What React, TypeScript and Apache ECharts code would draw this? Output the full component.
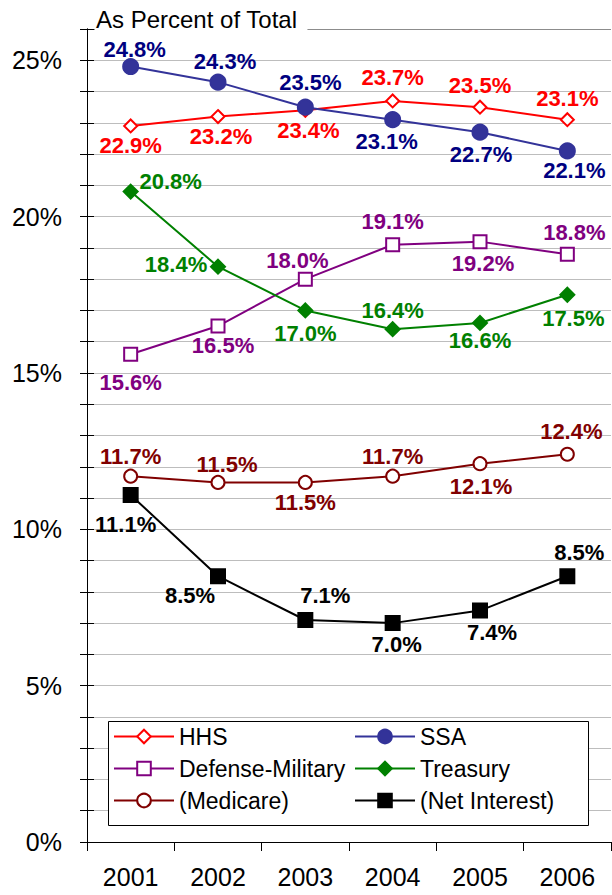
import React, { useEffect, useRef } from "react";
import * as echarts from "echarts";

const years = ["2001", "2002", "2003", "2004", "2005", "2006"];

const hhs = [22.9, 23.2, 23.4, 23.7, 23.5, 23.1];
const ssa = [24.8, 24.3, 23.5, 23.1, 22.7, 22.1];
const defense = [15.6, 16.5, 18.0, 19.1, 19.2, 18.8];
const treasury = [20.8, 18.4, 17.0, 16.4, 16.6, 17.5];
const medicare = [11.7, 11.5, 11.5, 11.7, 12.1, 12.4];
const netInterest = [11.1, 8.5, 7.1, 7.0, 7.4, 8.5];

// label placement (pixel offsets from each point)
const hhsOff = [[0, 20], [3, 20], [3, 20], [0, -23], [0, -22], [0, -21]];
const ssaOff = [[4, -17], [7, -21], [5, -25], [-6, 22], [1, 22], [7, 20]];
const defOff = [[0, 28], [5, 19], [-8, -19], [0, -23], [3, 22], [7, -22]];
const treOff = [[40, -10], [-42, -2], [0, 23], [0, -19], [0, 18], [6, 24]];
const medOff = [[0, -20], [9, -18], [0, 20], [0, -20], [1, 23], [4, -23]];
const netOff = [[-5, 30], [-28, 19], [20, -24], [4, 21], [12, 22], [12, -24]];

const FONT = "'Liberation Sans', Arial, sans-serif";

function mkSeries(
  name: string,
  values: number[],
  offs: number[][],
  lineColor: string,
  labelColor: string,
  symbol: string,
  symbolSize: number
) {
  return {
    name,
    type: "line",
    data: values.map((v, i) => ({
      value: v,
      label: { offset: offs[i] },
    })),
    symbol,
    symbolSize,
    showAllSymbol: true,
    lineStyle: { color: lineColor, width: 2 },
    itemStyle: { color: lineColor, borderColor: lineColor, borderWidth: 2 },
    label: {
      show: true,
      position: "inside",
      formatter: (p: any) => p.value.toFixed(1) + "%",
      color: labelColor,
      fontFamily: FONT,
      fontWeight: "bold",
      fontSize: 22,
    },
    emphasis: { disabled: true },
  };
}

export default function App() {
  const ref = useRef<HTMLDivElement>(null);
  useEffect(() => {
    if (!ref.current) return;
    const chart = echarts.init(ref.current, null, { renderer: "svg" });
    const gridColors = Array.from({ length: 27 }, (_, i) => (i === 26 ? "#8c8c8c" : "#bdbdbd"));
    const legendText = { fontFamily: FONT, fontSize: 23, color: "#000" };
    chart.setOption({
      animation: false,
      backgroundColor: "#fff",
      grid: { left: 87, top: 29, width: 524, height: 813 },
      xAxis: {
        type: "category",
        data: years,
        boundaryGap: true,
        axisLine: { lineStyle: { color: "#000", width: 1 } },
        axisTick: { show: true, length: 9, interval: 0, lineStyle: { color: "#000" } },
        axisLabel: { margin: 22, fontFamily: FONT, fontSize: 25, color: "#000", interval: 0 },
        splitLine: { show: false },
      },
      yAxis: [
        {
          type: "value",
          min: 0,
          max: 26,
          interval: 1,
          axisLine: { show: true, lineStyle: { color: "#000", width: 1 } },
          axisTick: { show: true, length: 7, lineStyle: { color: "#000" } },
          axisLabel: {
            margin: 25,
            fontFamily: FONT,
            fontSize: 25,
            color: "#000",
            formatter: (v: number) => (v % 5 === 0 ? v + "%" : ""),
          },
          splitLine: { show: true, lineStyle: { color: gridColors, width: 1 } },
        },
        {
          type: "value",
          min: 0,
          max: 26,
          interval: 1,
          position: "left",
          axisLine: { show: true, lineStyle: { color: "#000", width: 1 } },
          axisTick: { show: true, inside: true, length: 7, lineStyle: { color: "#000" } },
          axisLabel: { show: false },
          splitLine: { show: false },
        },
      ],
      legend: [
        {
          orient: "vertical",
          left: 108,
          top: 720,
          itemWidth: 60,
          itemHeight: 17,
          itemGap: 9,
          textStyle: legendText,
          data: ["HHS", "Defense-Military", "(Medicare)"],
          selectedMode: false,
        },
        {
          orient: "vertical",
          left: 349,
          top: 720,
          itemWidth: 60,
          itemHeight: 17,
          itemGap: 9,
          textStyle: legendText,
          data: ["SSA", "Treasury", "(Net Interest)"],
          selectedMode: false,
        },
      ],
      graphic: [
        {
          type: "rect",
          z: 3,
          shape: { x: 108.5, y: 721.5, width: 480, height: 104 },
          style: { fill: "#fff", stroke: "#000", lineWidth: 1 },
        },
        {
          type: "text",
          z: 5,
          x: 95,
          y: 19,
          style: {
            text: "As Percent of Total",
            fontFamily: FONT,
            fontSize: 24,
            fill: "#000",
            verticalAlign: "middle",
            align: "left",
            backgroundColor: "#fff",
            padding: [3, 10, 3, 1],
          },
        },
      ],
      series: [
        mkSeries("HHS", hhs, hhsOff, "#ff0000", "#ff0000", "emptyDiamond", 13),
        mkSeries("SSA", ssa, ssaOff, "#333399", "#000080", "circle", 15),
        mkSeries("Defense-Military", defense, defOff, "#800080", "#800080", "emptyRect", 13),
        mkSeries("Treasury", treasury, treOff, "#008000", "#008000", "diamond", 14),
        mkSeries("(Medicare)", medicare, medOff, "#800000", "#800000", "emptyCircle", 13),
        mkSeries("(Net Interest)", netInterest, netOff, "#000000", "#000000", "rect", 14),
      ],
    });
    return () => chart.dispose();
  }, []);
  return <div ref={ref} style={{ width: 612, height: 895, position: "absolute", left: 0, top: 0 }} />;
}
